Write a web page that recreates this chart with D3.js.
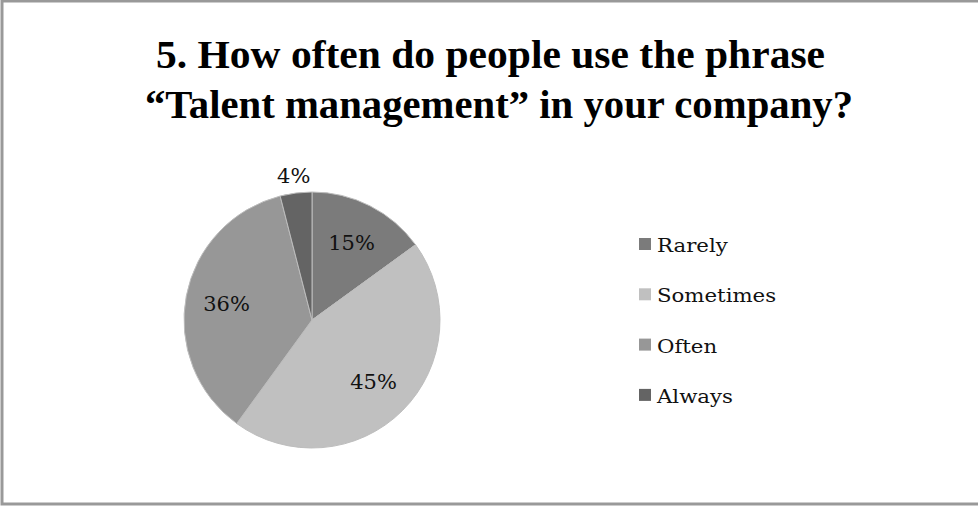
<!DOCTYPE html>
<html>
<head>
<meta charset="utf-8">
<script src="https://cdn.jsdelivr.net/npm/d3@7"></script>
<style>
  html, body { margin: 0; padding: 0; background: #fff; }
  svg { display: block; }
</style>
</head>
<body>
<div id="chart"></div>
<script>
// Data
const categories = ["Rarely", "Sometimes", "Often", "Always"];
const values = [15, 45, 36, 4];
const colors = ["#7b7b7b", "#c0c0c0", "#979797", "#646464"];
const titleLines = ["5. How often do people use the phrase", "\u201cTalent management\u201d in your company?"];

// Configuration
const width = 978;
const height = 507;
const cx = 312, cy = 320, radius = 128;
const labelRadius = 87;

const svg = d3.select("#chart").append("svg")
  .attr("width", width)
  .attr("height", height);

// border
svg.append("rect")
  .attr("x", 2).attr("y", 1)
  .attr("width", width + 10).attr("height", 503)
  .attr("fill", "none")
  .attr("stroke", "#999")
  .attr("stroke-width", 3);

// title (condensed bold serif, stretched to the measured widths)
const titleX = [156, 145];
const titleLengths = [669, 708];
svg.append("g")
  .selectAll("text")
  .data(titleLines)
  .join("text")
  .attr("x", (d, i) => titleX[i])
  .attr("y", (d, i) => 68 + i * 50)
  .attr("textLength", (d, i) => titleLengths[i])
  .attr("lengthAdjust", "spacingAndGlyphs")
  .style("font", "bold 39px 'Liberation Serif'")
  .attr("fill", "#000")
  .text(d => d);

const data = categories.map((c, i) => ({name: c, value: values[i], color: colors[i]}));

const pie = d3.pie().sort(null).value(d => d.value);
const arc = d3.arc().innerRadius(0).outerRadius(radius);
const labelArc = d3.arc().innerRadius(labelRadius).outerRadius(labelRadius);
const outerArc = d3.arc().innerRadius(radius + 18).outerRadius(radius + 18);

const arcs = pie(data);

const g = svg.append("g").attr("transform", `translate(${cx},${cy})`);

g.selectAll("path")
  .data(arcs)
  .join("path")
  .attr("d", arc)
  .attr("fill", d => d.data.color)
  .attr("stroke", "#bdbdbd")
  .attr("stroke-width", 1);

g.selectAll("text")
  .data(arcs)
  .join("text")
  .attr("transform", d => {
    const p = d.data.value < 10 ? outerArc.centroid(d) : labelArc.centroid(d);
    return `translate(${p})`;
  })
  .attr("text-anchor", "middle")
  .attr("dy", "0.36em")
  .style("font", "21px 'DejaVu Serif'")
  .attr("fill", "#111")
  .text(d => d.data.value + "%");

// legend
const legend = svg.append("g")
  .attr("transform", "translate(639,252)")
  .selectAll("g")
  .data(data)
  .join("g")
  .attr("transform", (d, i) => `translate(0,${i * 50.3})`);

legend.append("rect")
  .attr("x", 0).attr("y", -14)
  .attr("width", 12).attr("height", 12)
  .attr("fill", d => d.color);

// Cambria-like text is a bit wider than DejaVu Serif, so stretch horizontally
legend.append("text")
  .attr("transform", "translate(18,0) scale(1.12,1)")
  .style("font", "19px 'DejaVu Serif'")
  .attr("fill", "#111")
  .text(d => d.name);
</script>
</body>
</html>
